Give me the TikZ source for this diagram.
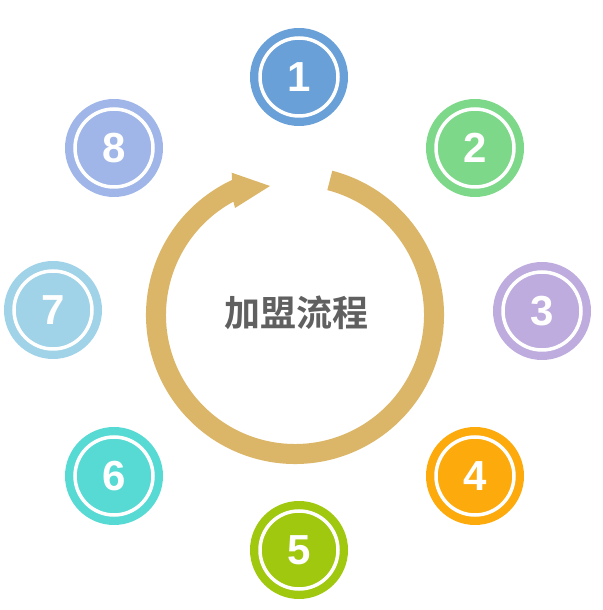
\documentclass[tikz,border=0pt]{standalone}
\usepackage{fontspec}
\setmainfont{Liberation Sans}
\newfontfamily\cjk{Noto Sans CJK SC}[BoldFont={Noto Sans CJK SC Bold}]
\definecolor{stepblue}{RGB}{106,160,216}
\definecolor{stepgreen}{RGB}{125,216,137}
\definecolor{steplilac}{RGB}{190,172,222}
\definecolor{steporange}{RGB}{252,170,12}
\definecolor{steplime}{RGB}{160,200,14}
\definecolor{stepteal}{RGB}{88,218,212}
\definecolor{stepsky}{RGB}{160,210,232}
\definecolor{stepperi}{RGB}{160,182,232}
\definecolor{ringgold}{RGB}{220,182,104}
\definecolor{titlegray}{RGB}{96,96,96}

\begin{document}
\begin{tikzpicture}[
  x=1pt, y=1pt,
  stepdot/.style={circle, minimum size=98pt, inner sep=0pt},
  whitering/.style={draw=white, line width=3.5pt},
  stepnum/.style={text=white, font=\fontsize{42}{42}\selectfont\bfseries}
]
  \useasboundingbox (0,0) rectangle (602,610);

  % cycle arrow
  \fill[ringgold, shift={(295,295)}]
    (75.5:149) arc[start angle=75.5, end angle=-245, radius=149]
    -- (-63.3,142.3) -- (-25,129) -- (-60,107)
    -- (-241.5:129) arc[start angle=-241.5, end angle=75.5, radius=129] -- cycle;

  \node[text=titlegray, font=\fontsize{36}{36}\selectfont\cjk\bfseries]
        (title) at (296,297) {加盟流程};

  % the eight steps
  \foreach \n/\px/\py/\col in {1/299/533/stepblue, 2/475/462/stepgreen,
      3/542/299/steplilac, 4/475/134/steporange, 5/299/60/steplime,
      6/114/134/stepteal, 7/53/300/stepsky, 8/114/462/stepperi} {
    \node[stepdot, fill=\col] (step\n) at (\px,\py) {};
    \draw[whitering] (step\n.center) circle[radius=39];
    \node[stepnum] (num\n) at (step\n.center) {\n};
  }
\end{tikzpicture}
\end{document}
